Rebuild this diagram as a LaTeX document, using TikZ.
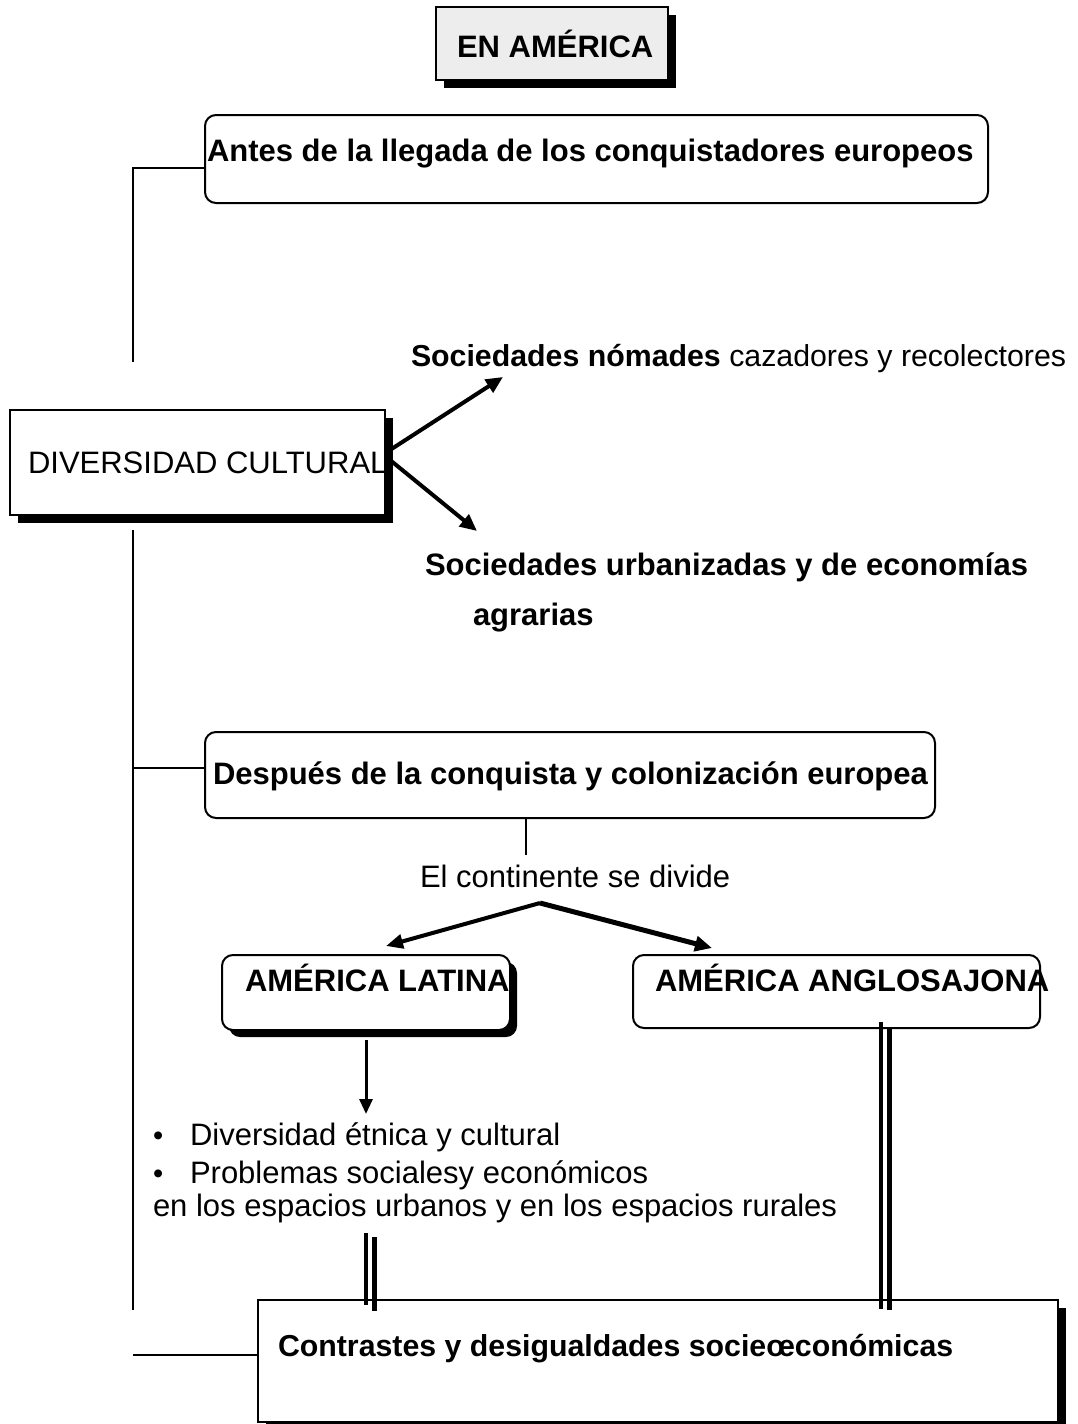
\documentclass[tikz,border=0pt]{standalone}
\usepackage{fontspec}
\setmainfont{Liberation Sans}
\usetikzlibrary{arrows.meta,shadows}
\begin{document}
\begin{tikzpicture}[x=1pt,y=-1pt,
  every node/.style={inner sep=0pt,outer sep=0pt},
  txt/.style={anchor=base west,font=\fontsize{31}{37}\selectfont},
  btxt/.style={txt,font=\fontsize{31}{37}\selectfont\bfseries},
  sqbox/.style={draw,line width=2pt,fill=white},
  rbox/.style={draw,line width=2pt,fill=white,rounded corners=11pt},
  shad/.style={drop shadow={shadow xshift=#1pt,shadow yshift=-#1pt,fill=black,opacity=1}},
  conn/.style={line width=2.5pt},
  thickarrow/.style={line width=4pt,-{Triangle[length=17pt,width=15pt]}},
  dbl/.style={line width=4.5pt}
]
\useasboundingbox (0,0) rectangle (1078,1424);

% boxes
\node[sqbox,fill=black!7,shad=8,minimum width=232pt,minimum height=73pt] (title) at (552,43.5) {};
\node[btxt] (titletxt) at (457,57) {EN AMÉRICA};

\node[rbox,minimum width=783pt,minimum height=88pt] (antes) at (596.5,159) {};
\node[btxt] (antestxt) at (207,161) {Antes de la llegada de los conquistadores europeos};

\node[sqbox,shad=8,minimum width=375pt,minimum height=105pt] (div) at (197.5,462.5) {};
\node[txt] (divtxt) at (28,473) {DIVERSIDAD CULTURAL};

\node[txt,font=\fontsize{30.3}{36}\selectfont] (nom) at (411,366) {\textbf{Sociedades nómades} cazadores y recolectores};
\node[btxt] (urb) at (425,575) {Sociedades urbanizadas y de economías};
\node[btxt] (agr) at (473,625) {agrarias};

\node[rbox,minimum width=730pt,minimum height=86pt] (desp) at (570,775) {};
\node[btxt] (desptxt) at (213,784) {Después de la conquista y colonización europea};

\node[txt] (cont) at (420,887) {El continente se divide};

\node[rbox,shad=7,minimum width=288pt,minimum height=75pt] (lat) at (366,992.5) {};
\node[btxt] (lattxt) at (245,991) {AMÉRICA LATINA};

\node[rbox,minimum width=407pt,minimum height=73pt] (ang) at (836.5,991.5) {};
\node[btxt] (angtxt) at (655,991) {AMÉRICA ANGLOSAJONA};

\node[txt,font=\fontsize{29}{33}\selectfont] (b1) at (153,1145) {•};
\node[txt] (l1) at (190,1145) {Diversidad étnica y cultural};
\node[txt,font=\fontsize{29}{33}\selectfont] (b2) at (153,1183) {•};
\node[txt] (l2) at (190,1183) {Problemas socialesy económicos};
\node[txt] (l3) at (153,1216) {en los espacios urbanos y en los espacios rurales};

\node[sqbox,shad=8,minimum width=800pt,minimum height=122pt] (con) at (658,1361) {};
\node[btxt,font=\fontsize{30.3}{36}\selectfont\bfseries] (contxt) at (278,1356) {Contrastes y desigualdades socieœconómicas};

% left trunk
\coordinate (t0) at (133,168);
\coordinate (t1) at (133,362);
\coordinate (t2) at (133,530);
\coordinate (t3) at (133,768);
\coordinate (t4) at (133,1310);
\coordinate (t5) at (133,1355);
\draw[conn] (t0 -| antes.west) -- (t0) -- (t1);
\draw[conn] (t2) -- (t4);
\draw[conn] (t3) -- (t3 -| desp.west);
\draw[conn] (t5) -- (t5 -| con.west);

% diversity arrows
\coordinate (d1) at (390,450);
\coordinate (d2) at (390,460);
\coordinate (n1) at (503,377);
\coordinate (u1) at (477,531);
\draw[thickarrow] (d1) -- (n1);
\draw[thickarrow] (d2) -- (u1);

% continent split
\coordinate (c0) at (526,855);
\draw[conn] (desp.south -| c0) -- (c0);
\coordinate (s0) at (540,903);
\coordinate (sl) at (386,946);
\coordinate (sr) at (712,948);
\draw[line width=4pt,-{Triangle[length=17pt,width=14pt]}] (s0) -- (sl);
\draw[line width=5pt,-{Triangle[length=17pt,width=15pt]}] (s0) -- (sr);

% latina down arrow
\coordinate (la0) at (366,1040);
\coordinate (la1) at (366,1114);
\draw[line width=3pt,-{Triangle[length=15pt,width=13pt]}] (la0) -- (la1);

% double lines
\coordinate (p1a) at (366,1233); \coordinate (p1b) at (366,1305);
\coordinate (p2a) at (374.5,1237); \coordinate (p2b) at (374.5,1311);
\draw[dbl] (p1a) -- (p1b);
\draw[dbl] (p2a) -- (p2b);
\coordinate (q1a) at (881,1022); \coordinate (q1b) at (881,1309);
\coordinate (q2a) at (889.5,1029); \coordinate (q2b) at (889.5,1310);
\draw[dbl] (q1a) -- (q1b);
\draw[dbl] (q2a) -- (q2b);
\end{tikzpicture}
\end{document}
